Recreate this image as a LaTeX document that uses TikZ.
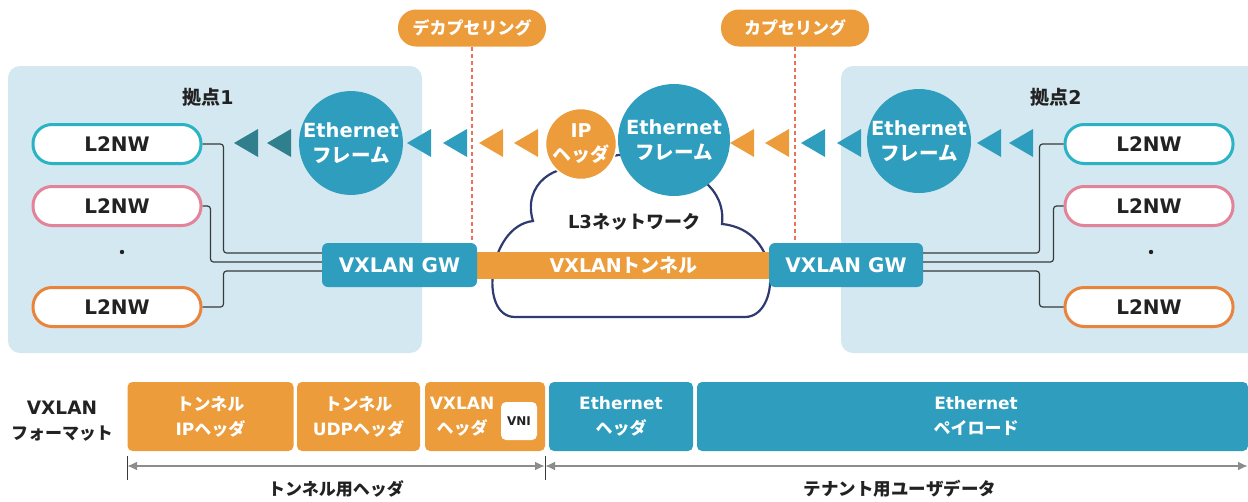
\documentclass[tikz,border=0pt]{standalone}
\usepackage{fontspec}
\setmainfont{Noto Sans CJK JP}
\newfontfamily\lat{DejaVu Sans}
\usetikzlibrary{arrows.meta}
\definecolor{orng}{HTML}{EC9C3A}
\definecolor{tealc}{HTML}{2E9DBE}
\definecolor{darkteal}{HTML}{2F7F8C}
\definecolor{panelblue}{HTML}{D3E8F0}
\definecolor{navy}{HTML}{2F3A70}
\definecolor{dashred}{HTML}{E9735A}
\definecolor{lteal}{HTML}{2AB3C3}
\definecolor{lpink}{HTML}{E38399}
\definecolor{lorange}{HTML}{E9843E}
\definecolor{textdark}{HTML}{222222}
\definecolor{dimgray}{HTML}{8C8C8C}
\definecolor{wiregray}{HTML}{3A3A3A}
\newcommand\fsz[2]{\fontsize{#1}{#2}\selectfont}
\newcommand\tri[2]{\fill[#2] (#1,143) -- ++(24,-14) -- ++(0,28) -- cycle;}
\begin{document}
\begin{tikzpicture}[x=1pt,y=-1pt,
  every node/.style={inner sep=0pt, font=\bfseries},
  panel/.style={fill=panelblue, rounded corners=12pt},
  l2nw/.style={draw=#1, line width=3pt, fill=white, rounded corners=19pt, minimum width=168pt, minimum height=39pt, text=textdark, font=\bfseries\lat\fsz{20}{24}},
  bigcirc/.style={circle, fill=tealc, text=white, align=center, font=\bfseries\fsz{19.5}{25}},
  pill/.style={fill=orng, text=white, rounded corners=18pt, minimum width=148pt, minimum height=37pt, font=\bfseries\fsz{17}{20}},
  dashline/.style={draw=dashred, line width=1.4pt, dash pattern=on 4pt off 3pt},
  gwbox/.style={fill=tealc, text=white, rounded corners=6pt, minimum width=155pt, minimum height=44pt, font=\bfseries\lat\fsz{20}{22}},
  wire/.style={draw=wiregray, line width=1.2pt, rounded corners=3pt},
  fmt/.style={fill=#1, text=white, rounded corners=5pt, minimum height=69pt, align=center, font=\bfseries\fsz{17}{25}},
  lbl/.style={text=textdark, font=\bfseries\fsz{17}{24}, align=center},
  dim/.style={draw=dimgray, line width=2.6pt, {Latex[length=10pt,width=9pt]}-{Latex[length=10pt,width=9pt]}},
  tick/.style={draw=wiregray, line width=0.8pt}]
\useasboundingbox (0,0) rectangle (1248,501);
\begin{scope}
\clip (0,0) rectangle (1248,501);
% panels
\fill[panel] (8,66) rectangle (422,353);
\fill[panel] (841,66) rectangle (1270,353);
% dashed lines and pills
\node[pill] (decap) at (472,28) {デカプセリング};
\node[pill] (cap) at (795,28) {カプセリング};
\coordinate (decapend) at (472,241);
\coordinate (capend) at (795,241);
\draw[dashline] (decap.south) -- (decapend);
\draw[dashline] (cap.south) -- (capend);
% cloud
\filldraw[fill=white, draw=navy, line width=2.2pt]
  (515,317) -- (745,317)
  .. controls (780,317) and (784,230) .. (722,224)
  .. controls (726,188) and (692,166) .. (660,168)
  .. controls (640,150) and (605,150) .. (590,170)
  .. controls (555,160) and (522,185) .. (533,221)
  .. controls (488,226) and (478,317) .. (515,317) -- cycle;
\node[lbl, font=\bfseries\fsz{18}{22}] (l3) at (634,222) {{\lat L3}ネットワーク};
% tunnel and gateways
\node[fill=orng, text=white, minimum width=294pt, minimum height=27pt, font=\bfseries\fsz{19}{22}] (tun) at (623.5,265.5) {{\lat VXLAN}トンネル};
\node[gwbox] (gw1) at (399.5,265) {VXLAN GW};
\node[gwbox, minimum width=154pt] (gw2) at (846,265) {VXLAN GW};
% panel labels
\node[lbl, font=\bfseries\fsz{19}{24}] (site1) at (208,97) {拠点{\lat 1}};
\node[lbl, font=\bfseries\fsz{19}{24}] (site2) at (1056,97) {拠点{\lat 2}};
% L2NW left
\node[l2nw=lteal] (l1) at (117,144) {L2NW};
\node[l2nw=lpink] (l2) at (117,206) {L2NW};
\node[l2nw=lorange] (l3b) at (117,307) {L2NW};
\fill[textdark] (122,252) circle (2.2);
% L2NW right
\node[l2nw=lteal] (r1) at (1149,144) {L2NW};
\node[l2nw=lpink] (r2) at (1149,206) {L2NW};
\node[l2nw=lorange] (r3) at (1149,307) {L2NW};
\fill[textdark] (1151,252) circle (2.2);
% wires
\draw[wire] (l1.east) -- ++(21,0) |- ([yshift=12pt]gw1.west);
\draw[wire] (l2.east) -- ++(8,0) |- ([yshift=3pt]gw1.west);
\draw[wire] (l3b.east) -- ++(21,0) |- ([yshift=-6pt]gw1.west);
\draw[wire] (r1.west) -- ++(-24,0) |- ([yshift=12pt]gw2.east);
\draw[wire] (r2.west) -- ++(-10,0) |- ([yshift=3pt]gw2.east);
\draw[wire] (r3.west) -- ++(-24,0) |- ([yshift=-6pt]gw2.east);
% circles
\node[bigcirc, minimum size=102pt] (eth1) at (351,143) {{\lat Ethernet}\\フレーム};
\node[bigcirc, minimum size=112pt] (ethc) at (674,140) {{\lat Ethernet}\\フレーム};
\node[bigcirc, minimum size=104pt] (eth2) at (919,141) {{\lat Ethernet}\\フレーム};
\node[circle, fill=orng, draw=white, line width=1.5pt, minimum size=71pt, text=white, align=center, font=\bfseries\fsz{19}{24}] (iph) at (581,144) {{\lat IP}\\ヘッダ};
% triangles
\tri{234}{darkteal}\tri{267}{darkteal}
\tri{407}{tealc}\tri{443}{tealc}
\tri{479}{orng}\tri{514}{orng}
\tri{730}{orng}\tri{765}{orng}
\tri{801}{tealc}\tri{837}{tealc}
\tri{977}{tealc}\tri{1009}{tealc}
% format
\node[lbl, font=\bfseries\fsz{17}{25}] (fmtlbl) at (62,421) {{\lat\fsz{18.5}{25}VXLAN}\\フォーマット};
\node[fmt=orng, minimum width=166pt] (f1) at (210.5,416.5) {トンネル\\{\lat IP}ヘッダ};
\node[fmt=orng, minimum width=123pt] (f2) at (358.5,416.5) {トンネル\\{\lat UDP}ヘッダ};
\node[fmt=orng, minimum width=120pt] (f3) at (485,416.5) {};
\node[text=white, align=center, font=\bfseries\fsz{17}{25}] (f3t) at (462,416.5) {{\lat VXLAN}\\ヘッダ};
\node[fill=white, rounded corners=5pt, minimum width=36pt, minimum height=38pt, text=textdark, font=\bfseries\lat\fsz{12}{14}] (vni) at (519,421) {VNI};
\node[fmt=tealc, minimum width=144pt] (f4) at (621,416.5) {{\lat Ethernet}\\ヘッダ};
\node[fmt=tealc, minimum width=551pt] (f5) at (972.5,416.5) {};
\node[text=white, align=center, font=\bfseries\fsz{17}{25}] (f5t) at (976,416.5) {{\lat Ethernet}\\ペイロード};
% dimension arrows
\coordinate (a0) at (127,466);
\coordinate (a1) at (545,466);
\coordinate (a2) at (1248,466);
\draw[tick] ([yshift=10pt]a0) -- ([yshift=-14pt]a0);
\draw[tick] ([yshift=10pt]a1) -- ([yshift=-14pt]a1);
\draw[dim] (a0) -- (a1);
\draw[dim] (a1) -- (a2);
\node[lbl] (tunhdr) at (336,489) {トンネル用ヘッダ};
\node[lbl, font=\bfseries\fsz{17.5}{24}] (tenant) at (900,489) {テナント用ユーザデータ};
\end{scope}
\end{tikzpicture}
\end{document}
